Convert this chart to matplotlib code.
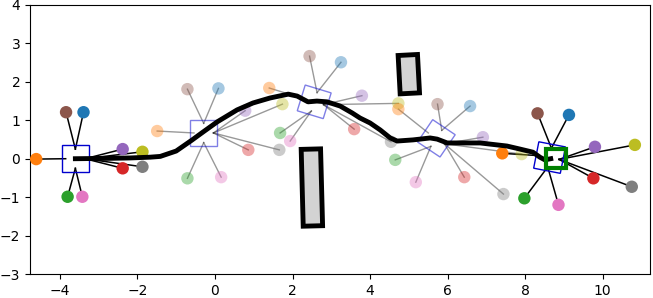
import numpy as np
import matplotlib
matplotlib.use("Agg")
import matplotlib.pyplot as plt
from matplotlib.patches import Rectangle

# ---------------- data ----------------
path_x = [-3.6, -2.7, -2.19, -1.67, -1.41, -1.0, -0.6, -0.3, 0.06, 0.57, 0.98, 1.42, 1.89,
          2.12, 2.40, 2.63, 2.89, 3.23, 3.54, 3.74, 4.00, 4.26, 4.52, 4.70, 5.11, 5.55,
          5.73, 5.99, 6.40, 6.84, 7.27, 7.53, 7.87, 8.20, 8.38, 8.51, 8.66]
path_y = [0.0, 0.01, 0.02, 0.04, 0.06, 0.2, 0.48, 0.70, 0.96, 1.27, 1.45, 1.58, 1.68,
          1.63, 1.48, 1.50, 1.48, 1.37, 1.19, 1.06, 0.93, 0.75, 0.54, 0.46, 0.49, 0.54,
          0.51, 0.41, 0.41, 0.41, 0.36, 0.33, 0.25, 0.17, 0.04, -0.03, 0.0]

pose_x = [-3.6, -0.29, 2.56, 5.71, 8.63]
pose_y = [0.0, 0.67, 1.48, 0.53, 0.03]
pose_angle = [0, 0, -17, -34, -11]
pose_faded = [False, True, True, True, False]

dot_colors = ['tab:orange', 'tab:brown', 'tab:blue', 'tab:green', 'tab:pink',
              'tab:purple', 'tab:olive', 'tab:red', 'tab:gray']
dot_anchor = ['left', 'top', 'top', 'bottom', 'bottom', 'right', 'right', 'right', 'right']

dots_x = [
    [-4.61, -3.84, -3.39, -3.80, -3.42, -2.38, -1.87, -2.38, -1.87],
    [-1.49, -0.71, 0.09, -0.71, 0.16, 0.78, 1.74, 0.86, 1.66],
    [1.40, 2.44, 3.25, 1.68, 1.94, 3.79, 4.73, 3.59, 4.54],
    [4.73, 5.74, 6.58, 4.65, 5.18, 6.91, 7.91, 6.43, 7.44],
    [7.41, 8.32, 9.13, 7.98, 8.86, 9.80, 10.83, 9.76, 10.75],
]
dots_y = [
    [-0.01, 1.21, 1.21, -0.99, -0.99, 0.25, 0.18, -0.25, -0.21],
    [0.72, 1.81, 1.83, -0.51, -0.48, 1.25, 1.42, 0.23, 0.23],
    [1.84, 2.67, 2.51, 0.67, 0.46, 1.64, 1.44, 0.77, 0.44],
    [1.29, 1.42, 1.37, -0.03, -0.61, 0.56, 0.12, -0.48, -0.92],
    [0.14, 1.18, 1.14, -1.03, -1.20, 0.31, 0.36, -0.51, -0.73],
]

obstacle_cx = [5.0, 2.5]
obstacle_cy = [2.2, -0.75]
obstacle_w = [0.5, 0.5]
obstacle_h = [1.0, 2.0]
obstacle_angle = [3, 1.5]

goal_x, goal_y, goal_size = 8.8, 0.0, 0.5
robot_size = 0.7
anchor_offset = 0.25

# ---------------- figure ----------------
fig = plt.figure(figsize=(6.53, 2.98), dpi=100)
ax = fig.add_axes([30 / 653, 24 / 298, 620 / 653, 269 / 298])

anchor_local = {'left': (-anchor_offset, 0), 'right': (anchor_offset, 0),
                'top': (0, anchor_offset), 'bottom': (0, -anchor_offset)}

for i in range(len(pose_x)):
    cx, cy, ang = pose_x[i], pose_y[i], pose_angle[i]
    faded = pose_faded[i]
    th = np.deg2rad(ang)
    c, s = np.cos(th), np.sin(th)
    alpha_dot = 0.4 if faded else 1.0
    line_kw = dict(color='k', lw=1.0, alpha=0.4) if faded else dict(color='k', lw=1.1)
    for j in range(len(dot_colors)):
        lx, ly = anchor_local[dot_anchor[j]]
        axp = cx + c * lx - s * ly
        ayp = cy + s * lx + c * ly
        ax.plot([dots_x[i][j], axp], [dots_y[i][j], ayp], zorder=2, **line_kw)
        ax.scatter([dots_x[i][j]], [dots_y[i][j]], s=80, color=dot_colors[j],
                   alpha=alpha_dot, edgecolors='none', zorder=3)
    sq = Rectangle((cx - robot_size / 2, cy - robot_size / 2), robot_size, robot_size,
                   angle=ang, rotation_point='center', fill=False,
                   edgecolor='mediumblue', lw=1.0, alpha=0.5 if faded else 1.0, zorder=2.5)
    ax.add_patch(sq)

for k in range(len(obstacle_cx)):
    r = Rectangle((obstacle_cx[k] - obstacle_w[k] / 2, obstacle_cy[k] - obstacle_h[k] / 2),
                  obstacle_w[k], obstacle_h[k], angle=obstacle_angle[k],
                  rotation_point='center', facecolor='lightgray', edgecolor='black',
                  lw=3.5, zorder=4)
    ax.add_patch(r)

ax.plot(path_x, path_y, color='black', lw=3.5, zorder=5)

goal = Rectangle((goal_x - goal_size / 2, goal_y - goal_size / 2), goal_size, goal_size,
                 fill=False, edgecolor='green', lw=3, zorder=6)
ax.add_patch(goal)

ax.set_xlim(-4.77, 11.22)
ax.set_ylim(-3, 4)
ax.set_xticks([-4, -2, 0, 2, 4, 6, 8, 10])
ax.set_yticks([-3, -2, -1, 0, 1, 2, 3, 4])

fig.savefig("out.png", dpi=100)
